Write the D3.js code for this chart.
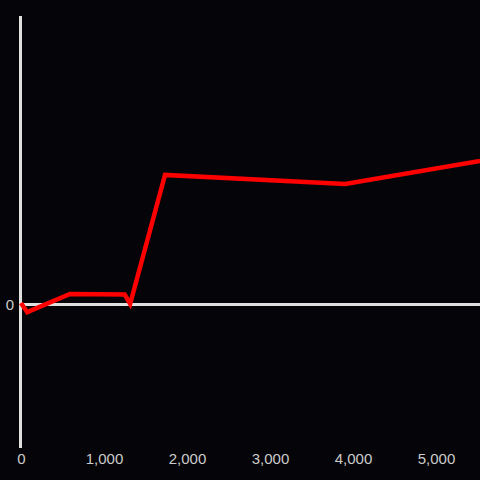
<!DOCTYPE html>
<html>
<head>
<meta charset="utf-8">
<script src="https://cdn.jsdelivr.net/npm/d3@7"></script>
<style>
  html, body { margin: 0; padding: 0; background: #050408; }
  svg { display: block; }
</style>
</head>
<body>
<svg id="chart"></svg>
<script>
// Series values
const xValues = [0, 75, 590, 1250, 1315, 1735, 3905, 5530];
const yValues = [0.01, -0.085, 0.105, 0.098, 0, 1.345, 1.25, 1.49];
const xTicks = [0, 1000, 2000, 3000, 4000, 5000];
const yTicks = [0];

const width = 480;
const height = 480;
const margin = { top: 16, right: 0, bottom: 32, left: 21 };

const svg = d3.select("#chart")
    .attr("width", width)
    .attr("height", height);

svg.append("rect")
    .attr("width", width)
    .attr("height", height)
    .attr("fill", "#050408");

const x = d3.scaleLinear()
    .domain([0, 5530])
    .range([margin.left, width - margin.right]);

const y = d3.scaleLinear()
    .domain([-1.5, 3])
    .range([height - margin.bottom, margin.top]);

// Y axis line
svg.append("line")
    .attr("x1", margin.left - 0.5)
    .attr("x2", margin.left - 0.5)
    .attr("y1", margin.top)
    .attr("y2", height - margin.bottom)
    .attr("stroke", "#e0e0e0")
    .attr("stroke-width", 3);

// Zero line
svg.append("line")
    .attr("x1", margin.left - 2)
    .attr("x2", width)
    .attr("y1", y(0) + 0.5)
    .attr("y2", y(0) + 0.5)
    .attr("stroke", "#e0e0e0")
    .attr("stroke-width", 3);

// X tick labels
svg.append("g")
    .attr("transform", `translate(0,${height - 19})`)
    .call(d3.axisBottom(x).tickValues(xTicks).tickSize(0).tickFormat(d3.format(",")))
    .call(g => g.select(".domain").remove())
    .call(g => g.selectAll("text")
        .attr("fill", "#cccccc")
        .attr("dy", "0")
        .style("font-family", "Liberation Sans, Arial, sans-serif")
        .style("font-size", "15px"));

// Y tick labels
svg.append("g")
    .attr("transform", `translate(${margin.left - 4},0.5)`)
    .call(d3.axisLeft(y).tickValues(yTicks).tickSize(0).tickFormat(d3.format("d")))
    .call(g => g.select(".domain").remove())
    .call(g => g.selectAll("text")
        .attr("fill", "#cccccc")
        .style("font-family", "Liberation Sans, Arial, sans-serif")
        .style("font-size", "15px"));

// Red line
const data = xValues.map((v, i) => [v, yValues[i]]);
svg.append("path")
    .datum(data)
    .attr("fill", "none")
    .attr("stroke", "#ff0000")
    .attr("stroke-width", 4.5)
    .attr("stroke-linejoin", "miter")
    .attr("d", d3.line().x(d => x(d[0])).y(d => y(d[1])));
</script>
</body>
</html>
